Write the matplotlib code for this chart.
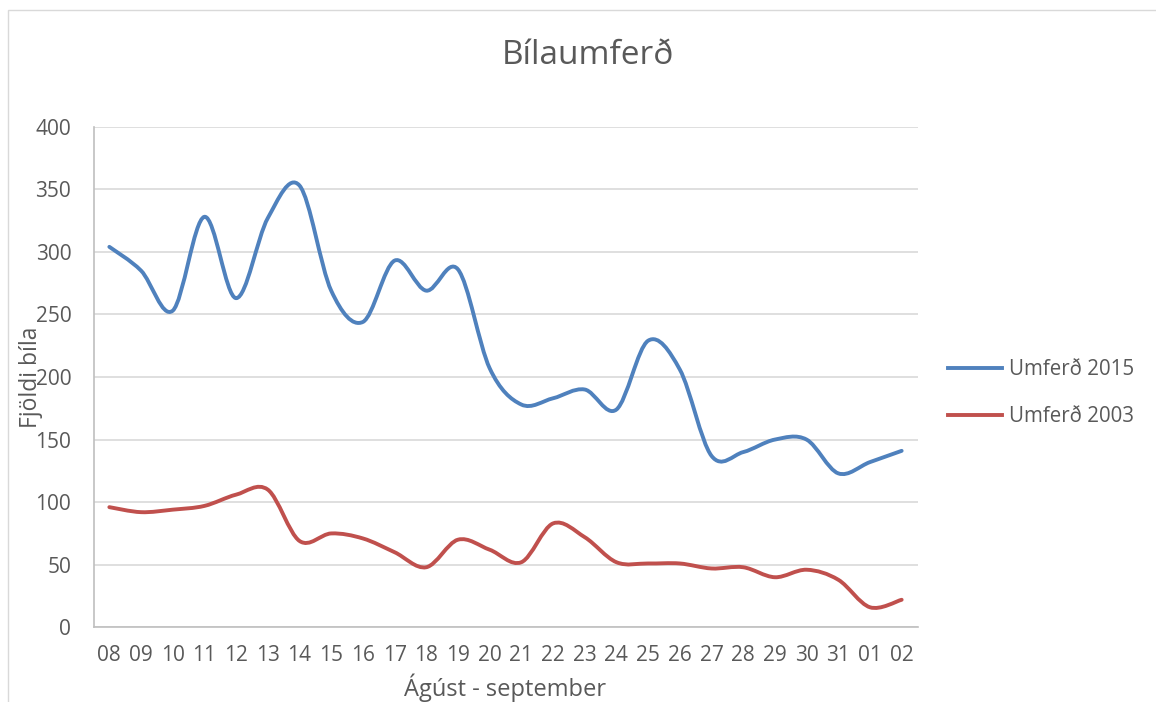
import matplotlib
matplotlib.use("Agg")
import matplotlib.pyplot as plt
import numpy as np
from matplotlib.path import Path
from matplotlib.patches import PathPatch, Rectangle
from matplotlib.lines import Line2D

days = ["08", "09", "10", "11", "12", "13", "14", "15", "16", "17", "18", "19", "20",
        "21", "22", "23", "24", "25", "26", "27", "28", "29", "30", "31", "01", "02"]
umferd_2015 = [304, 285, 253, 328, 263, 327, 353, 269, 244, 293, 269, 286, 207,
               178, 183, 190, 174, 229, 206, 137, 140, 150, 150, 123, 132, 141]
umferd_2003 = [96, 92, 94, 97, 106, 110, 69, 75, 71, 60, 48, 70, 62,
               52, 83, 72, 52, 51, 51, 47, 48, 40, 46, 38, 16, 22]

title = "Bílaumferð"
ylabel = "Fjöldi bíla"
xlabel = "Ágúst - september"
series_names = ["Umferð 2015", "Umferð 2003"]
colors = ["#4F81BD", "#C0504D"]
gray = "#595959"

W, H = 1156, 702
fig = plt.figure(figsize=(W / 100, H / 100), dpi=100)

# chart area border
fig.patches.append(Rectangle((8 / W, -0.05), 1.1, 1 - 10 / H + 0.05, transform=fig.transFigure,
                             fill=False, edgecolor="#d9d9d9", linewidth=1.0))

ax = fig.add_axes([93.5 / W, 1 - 627.3 / H, 824 / W, 500.6 / H])


def smooth_path(xs, ys):
    pts = np.column_stack([xs, ys]).astype(float)
    n = len(pts)
    verts = [pts[0]]
    codes = [Path.MOVETO]
    for i in range(n - 1):
        p0 = pts[i - 1] if i > 0 else pts[i]
        p1 = pts[i]
        p2 = pts[i + 1]
        p3 = pts[i + 2] if i + 2 < n else pts[i + 1]
        c1 = p1 + (p2 - p0) / 6.0
        c2 = p2 - (p3 - p1) / 6.0
        verts += [c1, c2, p2]
        codes += [Path.CURVE4] * 3
    return Path(verts, codes)


x = np.arange(len(days))
for vals, c in zip([umferd_2015, umferd_2003], colors):
    patch = PathPatch(smooth_path(x, vals), fill=False, edgecolor=c, linewidth=2.8,
                      capstyle="round", joinstyle="round", zorder=3)
    ax.add_patch(patch)

ax.set_xlim(-0.5, len(days) - 0.5)
ax.set_ylim(0, 400)
ax.set_yticks(range(0, 401, 50))
ax.set_xticks(x)
ax.set_xticklabels(days, fontfamily="Open Sans", fontsize=15, color=gray)
for lab in ax.get_yticklabels():
    lab.set_fontfamily("Open Sans")
    lab.set_fontsize(15)
    lab.set_color(gray)
ax.tick_params(axis="both", length=0)
ax.tick_params(axis="y", pad=16)
ax.tick_params(axis="x", pad=13)

ax.grid(axis="y", color="#d9d9d9", linewidth=1.2)
ax.set_axisbelow(True)
for s in ["top", "right"]:
    ax.spines[s].set_visible(False)
ax.spines["left"].set_color("#bfbfbf")
ax.spines["bottom"].set_color("#bfbfbf")
ax.spines["left"].set_linewidth(1.2)
ax.spines["bottom"].set_linewidth(1.2)

ax.set_ylabel(ylabel, fontfamily="Open Sans", fontsize=16.5, color=gray)
ax.yaxis.label.set_va("center")
ax.yaxis.set_label_coords((31 - 93.5) / 824, (627.3 - 377) / 500.6)
ax.set_xlabel(xlabel, fontfamily="Open Sans", fontsize=17, color=gray)
ax.xaxis.set_label_coords(0.5, (627.3 - 688) / 500.6)
ax.xaxis.label.set_va("center")

fig.text(588 / W, 1 - 55 / H, title, fontfamily="Open Sans", fontsize=24, color=gray,
         ha="center", va="center")

handles = [Line2D([], [], color=c, linewidth=2.8) for c in colors]
leg = fig.legend(handles, series_names, loc="center left",
                 bbox_to_anchor=(948 / W, 1 - 393 / H), frameon=False,
                 prop={"family": "Open Sans", "size": 14.8}, labelcolor=gray,
                 handlelength=2.65, handletextpad=0.3, labelspacing=1.25,
                 borderpad=0, borderaxespad=0)

fig.savefig("out.png", dpi=100)
